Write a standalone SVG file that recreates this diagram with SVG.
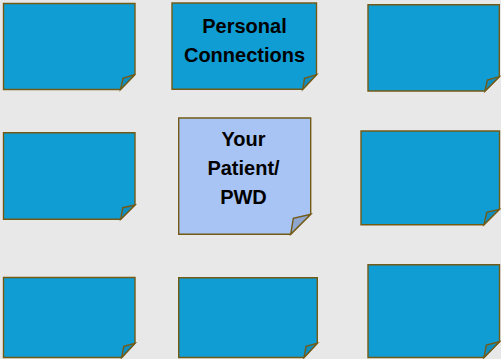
<svg xmlns="http://www.w3.org/2000/svg" width="501" height="359" viewBox="0 0 501 359">
<style>
.note{fill:#109DD4;stroke:#735B16;stroke-width:1.4;stroke-linejoin:miter}
.fold{fill:#0E8DC0;stroke:#735B16;stroke-width:1.4}
.me{fill:#A8C4F4;stroke:#735B16;stroke-width:1.4}
.mefold{fill:#8FA6CE;stroke:#735B16;stroke-width:1.4}
.t{font-family:"Liberation Sans",Arial,sans-serif;font-weight:bold;font-size:20px;fill:#000;text-anchor:middle}
</style>
<rect width="501" height="359" fill="#E8E8E8"/>
<g id="n1"><path class="note" d="M3.5,3.5H135V74.5L120.5,89.5H3.5Z"/><path class="fold" d="M120.5,89.5L123,78.3L135,74.5Z"/></g>
<g id="n2"><path class="note" d="M172,3H316.5V74.7L302.7,89.3H172Z"/><path class="fold" d="M302.7,89.3L304.5,78.3L316.5,74.7Z"/>
<text class="t" x="244.5" y="33">Personal</text><text class="t" x="244.5" y="61.5">Connections</text></g>
<g id="n3"><path class="note" d="M368,4.7H499.3V76.7L485,91H368Z"/><path class="fold" d="M485,91L487.3,80L499.3,76.7Z"/></g>
<g id="n4"><path class="note" d="M3.5,132.7H135V205L120.7,219.3H3.5Z"/><path class="fold" d="M120.7,219.3L122.7,207.7L135,205Z"/></g>
<g id="n5"><path class="me" d="M178.7,118H310.7V214.3L290.7,234.3H178.7Z"/><path class="mefold" d="M290.7,234.3L293.3,218.3L310.7,214.3Z"/>
<text class="t" x="243.5" y="146">Your</text><text class="t" x="243.5" y="175">Patient/</text><text class="t" x="243.5" y="203.5">PWD</text></g>
<g id="n6"><path class="note" d="M361,131H499.5V209.3L484,224.7H361Z"/><path class="fold" d="M484,224.7L486.7,212.3L499.5,209.3Z"/></g>
<g id="n7"><path class="note" d="M3.5,277.5H135V343.3L121.7,357.5H3.5Z"/><path class="fold" d="M121.7,357.5L123.7,346.3L135,343.3Z"/></g>
<g id="n8"><path class="note" d="M178.7,277.7H317.3V343.3L304,357.5H178.7Z"/><path class="fold" d="M304,357.5L306,346.3L317.3,343.3Z"/></g>
<g id="n9"><path class="note" d="M368,264.7H499.5V341.7L484,357.5H368Z"/><path class="fold" d="M484,357.5L486.3,345L499.5,341.7Z"/></g>
<g id="connectors"></g>
</svg>
